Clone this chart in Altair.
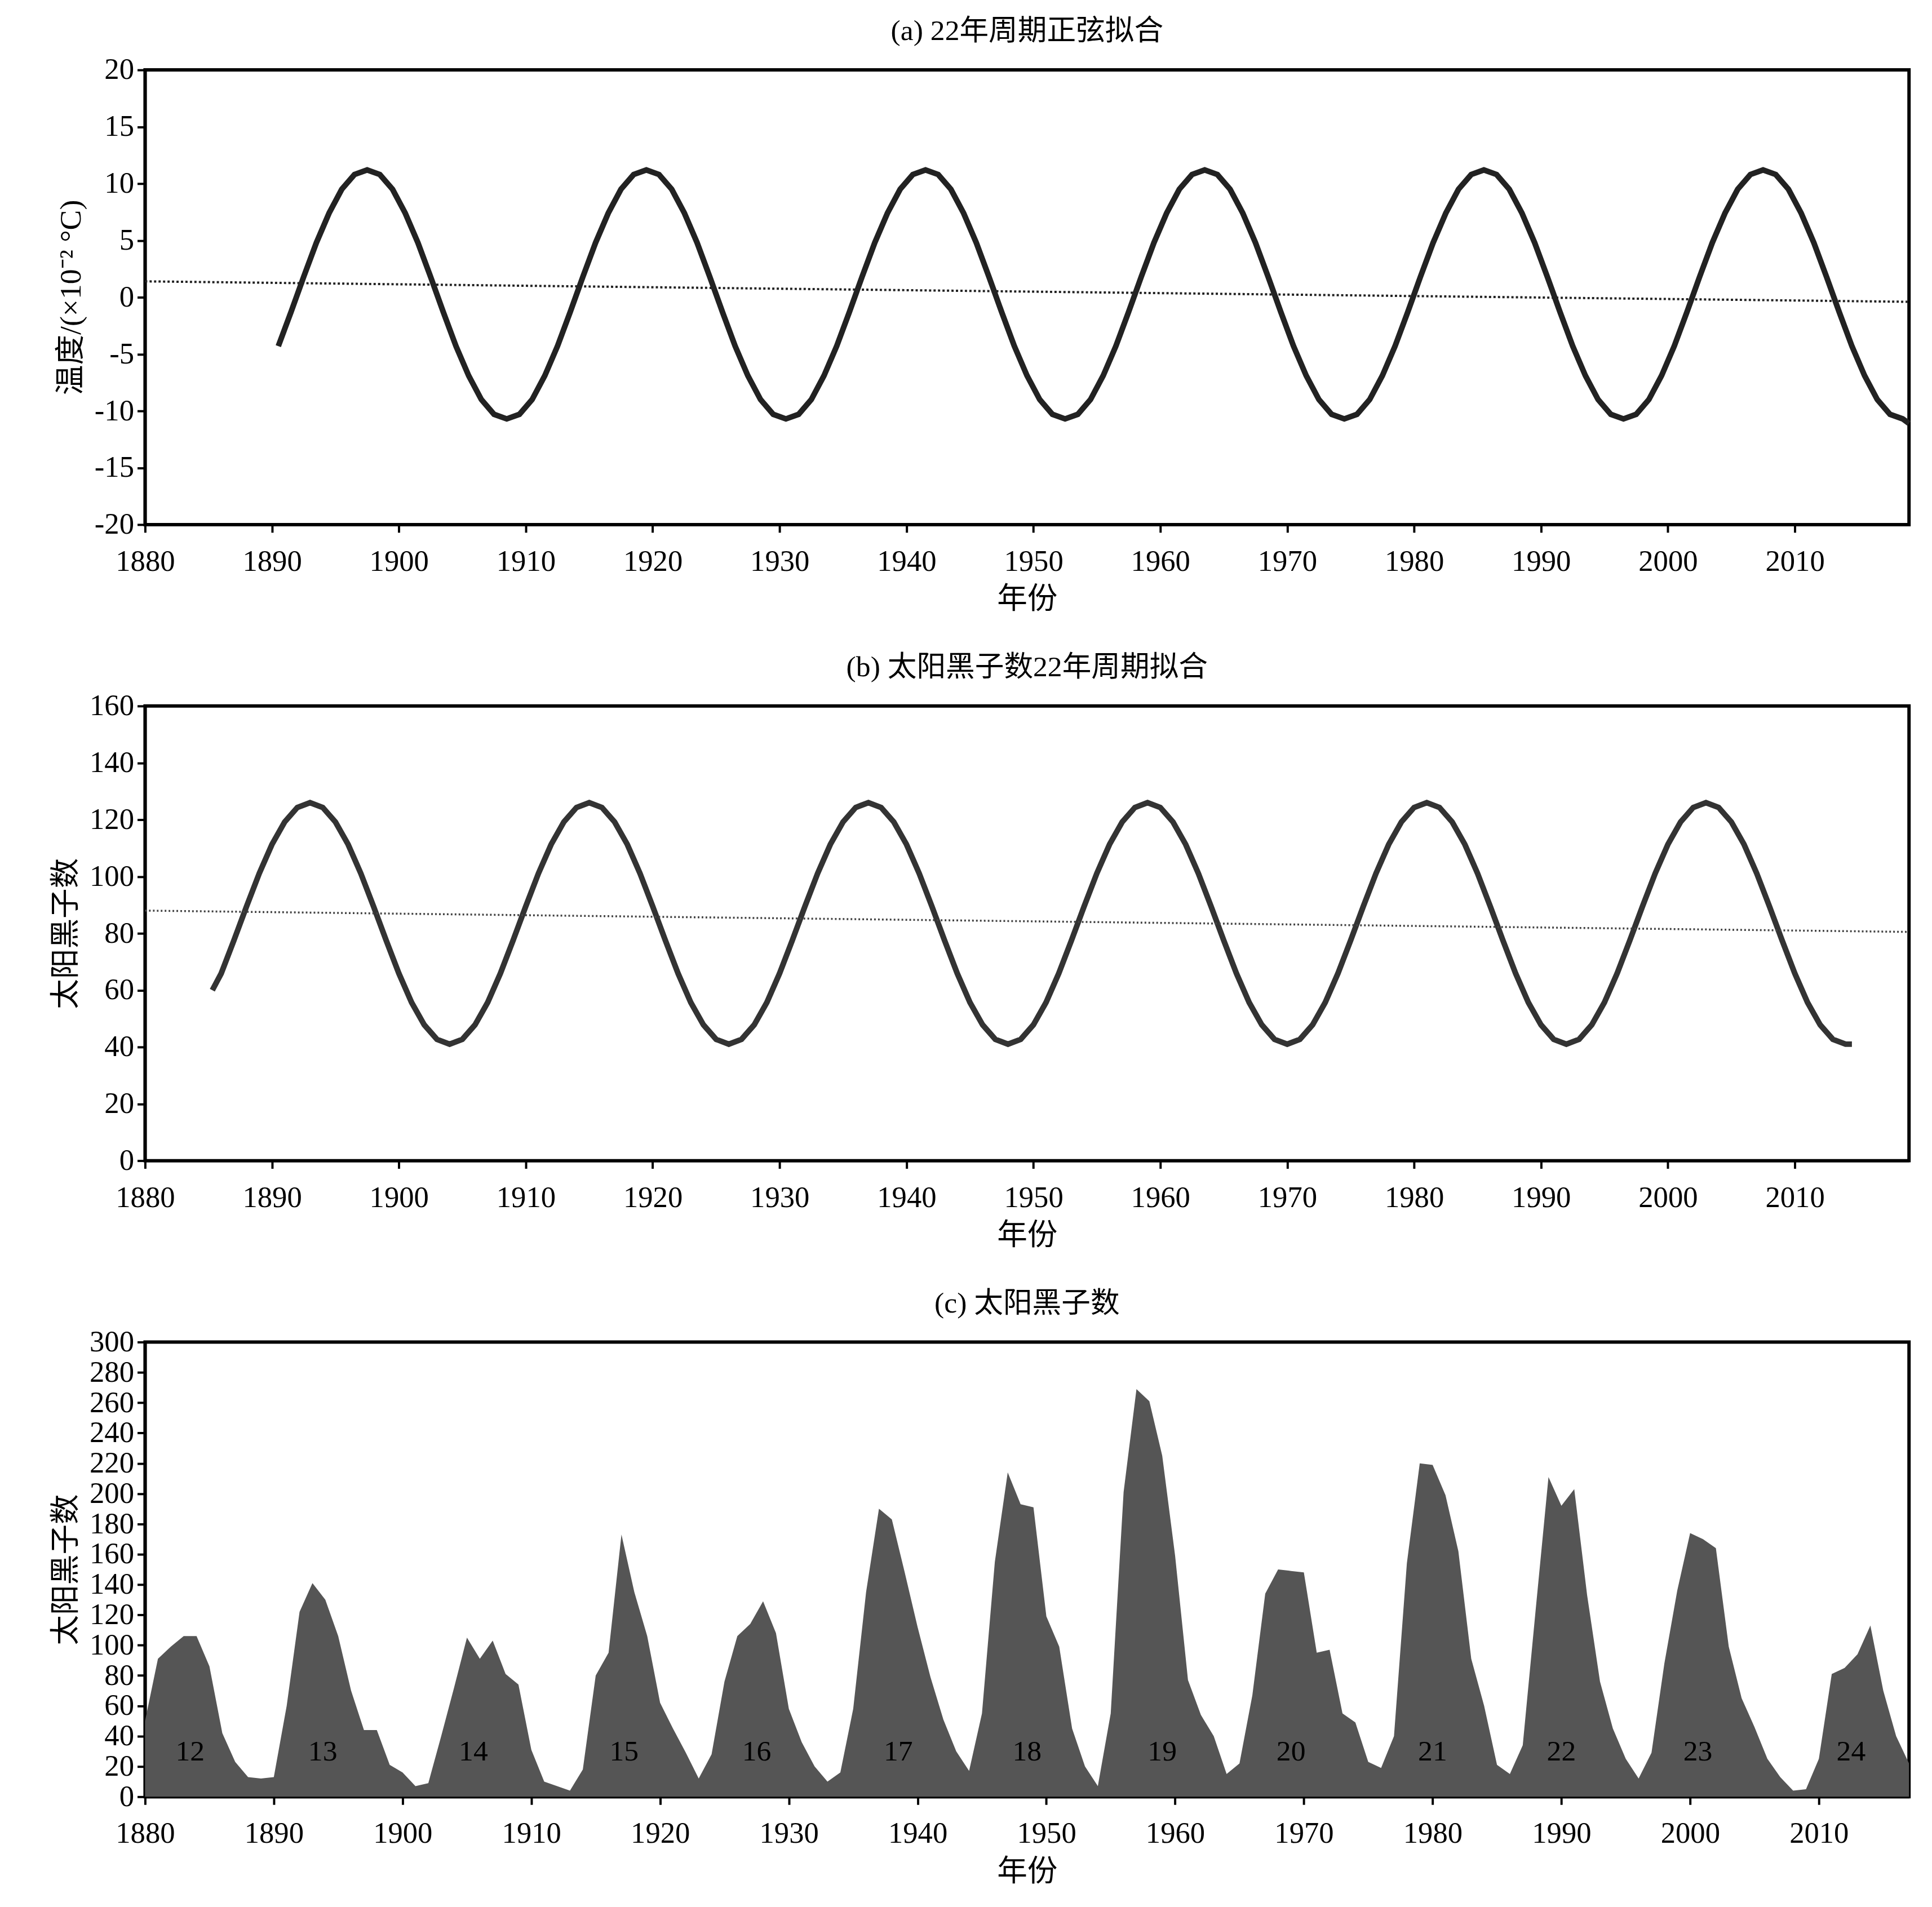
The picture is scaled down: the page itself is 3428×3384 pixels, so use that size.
import pandas as pd
import altair as alt

FONT = "Liberation Serif, Noto Sans CJK SC"

# (a) fitted 22-year sine, one cycle (half-year samples, starting at the peak)
cycle_a = [11.2, 10.8, 9.5, 7.4, 4.8, 1.8, -1.3, -4.3, -6.9, -9.0, -10.3,
           -10.7, -10.3, -9.0, -6.9, -4.3, -1.3, 1.8, 4.8, 7.4, 9.5, 10.8]
start_a = 1890.5
vals_a = (cycle_a * 7)[15:15 + 129] + [-11.1]
years_a = [start_a + i for i in range(129)] + [2019]
trend_a_years = [1880, 2019]
trend_a_vals = [1.4, -0.4]

# (b) fitted sunspot 22-year sine, one cycle from the peak
cycle_b = [126, 124.3, 119.2, 111.3, 101.1, 89.5, 77.5, 65.9, 55.7, 47.8, 42.7,
           41, 42.7, 47.8, 55.7, 65.9, 77.5, 89.5, 101.1, 111.3, 119.2, 124.3]
vals_b = [60] + (cycle_b * 7)[15:15 + 130]
years_b = [1885.3] + [1886 + i for i in range(130)]
vals_b[-1] = 41
years_b[-1] = 2014.5
trend_b_years = [1880, 2019]
trend_b_vals = [88, 80.5]

# (c) annual sunspot number
years_c = list(range(1880, 2018))
spots = [50, 91, 99, 106, 106, 86, 42, 23, 13, 12,
         13, 60, 122, 141, 130, 106, 70, 44, 44, 21,
         16, 7, 9, 40, 72, 105, 91, 103, 81, 74,
         31, 10, 7, 4, 18, 80, 95, 173, 135, 106,
         62, 45, 29, 12, 28, 76, 106, 114, 129, 108,
         58, 36, 20, 10, 16, 58, 135, 190, 183, 148,
         112, 79, 51, 30, 17, 55, 155, 214, 193, 191,
         119, 99, 45, 20, 7, 55, 201, 269, 261, 225,
         159, 77, 54, 40, 15, 22, 67, 134, 150, 149,
         148, 95, 97, 55, 49, 23, 19, 40, 154, 220,
         219, 199, 162, 91, 60, 21, 15, 34, 123, 211,
         192, 203, 133, 76, 45, 25, 12, 29, 88, 136,
         174, 170, 164, 99, 65, 46, 25, 13, 4, 5,
         25, 81, 85, 94, 113, 70, 40, 22]
cycle_labels = ["12", "13", "14", "15", "16", "17", "18", "19", "20", "21", "22", "23", "24"]
cycle_x = [1883.5, 1893.8, 1905.5, 1917.2, 1927.5, 1938.5, 1948.5, 1959, 1969, 1980, 1990, 2000.6, 2012.5]

W, H = 3150, 812
LW = 10


def xaxis(domain):
    return alt.X("year:Q", title="年份",
                 scale=alt.Scale(domain=domain, nice=False, zero=False),
                 axis=alt.Axis(values=list(range(1880, 2020, 10)), format="d", labelFlush=False))


df_a = pd.DataFrame({"year": years_a, "v": vals_a})
tr_a = pd.DataFrame({"year": trend_a_years, "v": trend_a_vals})
ya = alt.Y("v:Q", title="温度/(×10⁻² °C)", scale=alt.Scale(domain=[-20, 20]),
           axis=alt.Axis(values=list(range(-20, 25, 5)), labelExpr="replace(datum.label, '−', '-')"))
pa = alt.layer(
    alt.Chart(df_a).mark_line(color="#222", strokeWidth=LW).encode(xaxis([1880, 2019]), ya),
    alt.Chart(tr_a).mark_line(color="#222", strokeWidth=4, strokeDash=[4, 4]).encode(xaxis([1880, 2019]), ya),
).properties(width=W, height=H, title="(a) 22年周期正弦拟合")

df_b = pd.DataFrame({"year": years_b, "v": vals_b})
tr_b = pd.DataFrame({"year": trend_b_years, "v": trend_b_vals})
yb = alt.Y("v:Q", title="太阳黑子数", scale=alt.Scale(domain=[0, 160]),
           axis=alt.Axis(values=list(range(0, 180, 20))))
pb = alt.layer(
    alt.Chart(df_b).mark_line(color="#333", strokeWidth=LW).encode(xaxis([1880, 2019]), yb),
    alt.Chart(tr_b).mark_line(color="#444", strokeWidth=3.5, strokeDash=[3, 4]).encode(xaxis([1880, 2019]), yb),
).properties(width=W, height=H, title="(b) 太阳黑子数22年周期拟合")

df_c = pd.DataFrame({"year": years_c, "v": spots})
lab_c = pd.DataFrame({"year": cycle_x, "v": [30] * len(cycle_x), "t": cycle_labels})
yc = alt.Y("v:Q", title="太阳黑子数", scale=alt.Scale(domain=[0, 300]),
           axis=alt.Axis(values=list(range(0, 320, 20))))
pc = alt.layer(
    alt.Chart(df_c).mark_area(color="#555555", opacity=1).encode(xaxis([1880, 2017]), yc),
    alt.Chart(lab_c).mark_text(fontSize=52, font=FONT, color="black").encode(
        xaxis([1880, 2017]), yc, text="t:N"),
).properties(width=W, height=H, title="(c) 太阳黑子数")

chart = alt.vconcat(pa, pb, pc, spacing=62).properties(
    padding={"left": 80, "top": 8, "right": 10, "bottom": 10}
).configure(
    font=FONT, background="white"
).configure_view(
    stroke="black", strokeWidth=6
).configure_axis(
    grid=False, labelFont=FONT, titleFont=FONT, labelFontSize=53, titleFontSize=54,
    labelColor="black", titleColor="black", titleFontWeight="normal",
    domainColor="black", domainWidth=5, tickColor="black", tickWidth=4, tickSize=14,
    labelPadding=6
).configure_axisY(
    labelLimit=400, titlePadding=14
).configure_axisX(
    labelPadding=26, titlePadding=14
).configure_title(
    font=FONT, fontSize=52, fontWeight="normal", color="black", offset=16
)

chart.save("out.html", embed_options={"renderer": "svg", "actions": False})
